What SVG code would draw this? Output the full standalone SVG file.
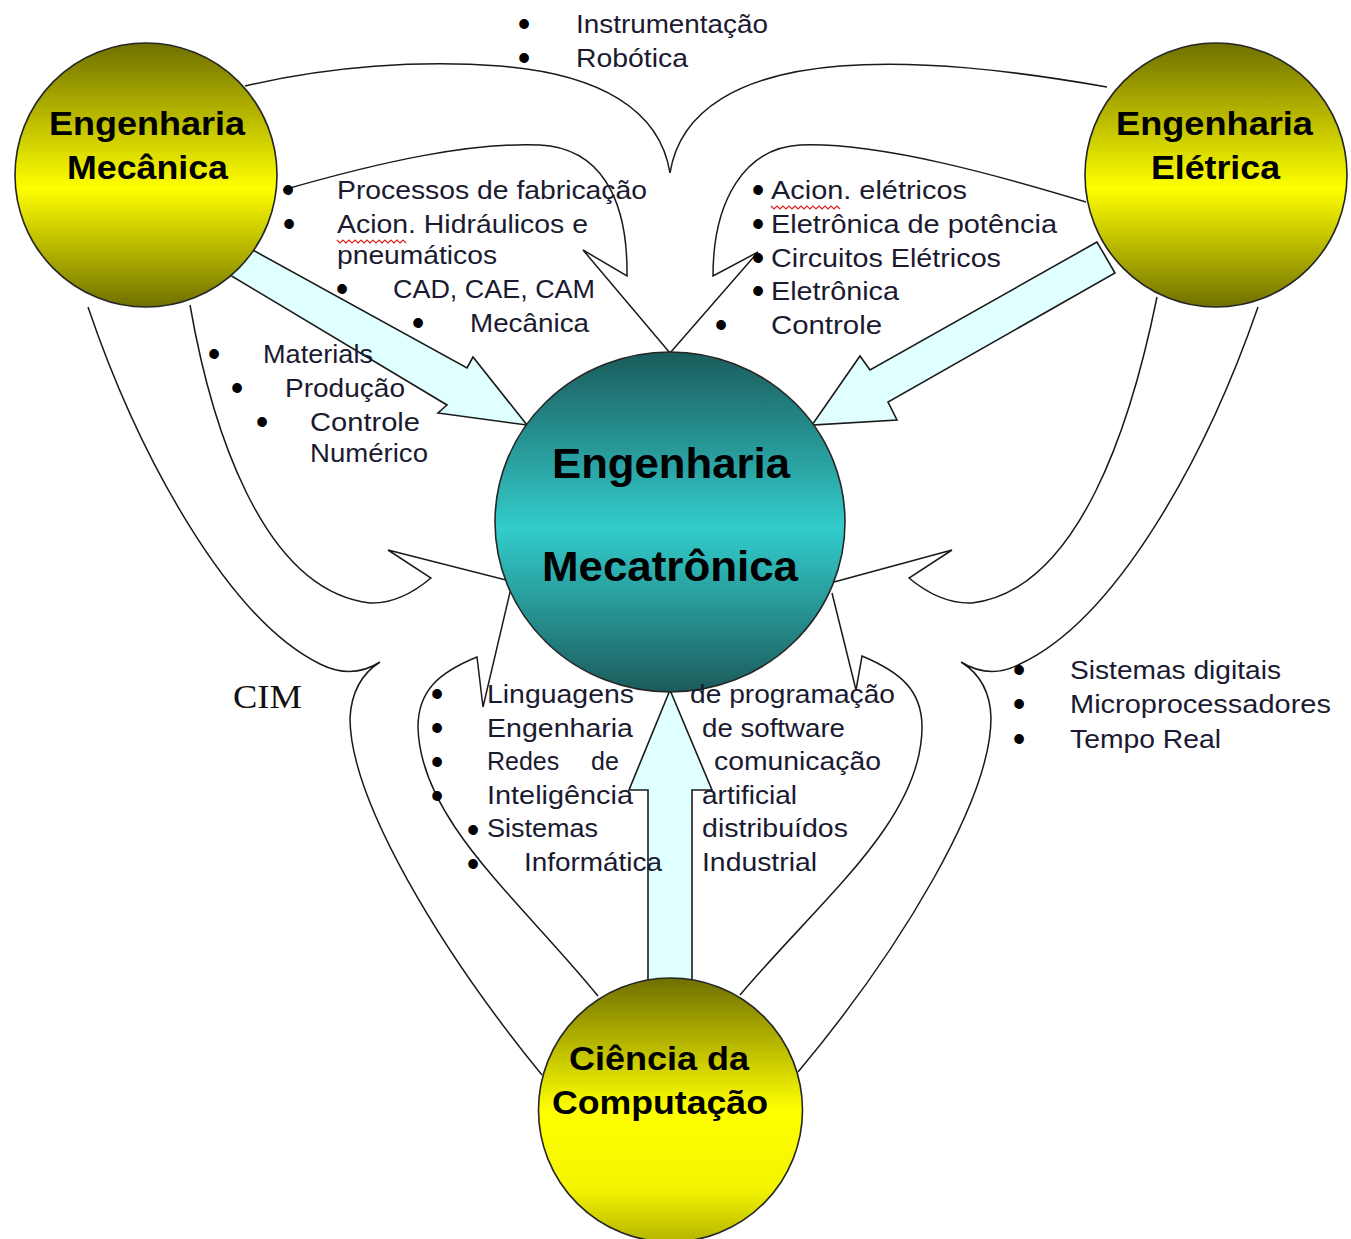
<svg xmlns="http://www.w3.org/2000/svg" width="1351" height="1239" viewBox="0 0 1351 1239">
<defs>
<linearGradient id="gYellow" x1="0" y1="0" x2="0" y2="1">
<stop offset="0" stop-color="#6f6f00"/>
<stop offset="0.55" stop-color="#ffff00"/>
<stop offset="1" stop-color="#6f6f00"/>
</linearGradient>
<linearGradient id="gYellowLow" x1="0" y1="0" x2="0" y2="1">
<stop offset="0" stop-color="#6f6f00"/>
<stop offset="0.5" stop-color="#ffff00"/>
<stop offset="0.8" stop-color="#f4f400"/>
<stop offset="1" stop-color="#b4b400"/>
</linearGradient>
<linearGradient id="gTeal" x1="0" y1="0" x2="0" y2="1">
<stop offset="0" stop-color="#1b5b5b"/>
<stop offset="0.52" stop-color="#33cccc"/>
<stop offset="1" stop-color="#1b5b5b"/>
</linearGradient>
<style>
.line{fill:none;stroke:#1a1a1a;stroke-width:1.5;stroke-linejoin:miter}
.block{fill:#e0ffff;stroke:#1a1a1a;stroke-width:1.6;stroke-linejoin:miter}
.node{stroke:#262626;stroke-width:1.6}
.nt{font-family:"Liberation Sans",Arial,sans-serif;font-weight:bold;fill:#000}
.t{font-family:"Liberation Sans",Arial,sans-serif;font-size:25px;fill:#1a1a30}
.b{font-family:"Liberation Sans",Arial,sans-serif;font-size:29px;fill:#000;stroke:#000;stroke-width:1.8;text-anchor:middle}
.wavy{fill:none;stroke:#e02020;stroke-width:1.2}
</style>
</defs>

<g id="connectors">
<path class="line" d="M 245,86 C 330,66 420,60 500,66 C 600,74 660,110 670,173 C 680,110 740,74 840,66 C 920,60 1010,70 1107,87"/>
<path class="line" d="M 88,307 C 140,460 230,620 320,664 Q 352,680 380,662 Q 352,680 350,718 C 350,800 440,950 542,1075"/>
<path class="line" d="M 1258,307 C 1205,460 1115,620 1020,664 Q 990,680 961,662 Q 990,680 991,718 C 991,800 900,950 798,1072"/>
<path class="line" d="M 283,190 C 380,162 470,142 540,145 C 598,148 628,195 627,276 L 583,250 L 670,353"/>
<path class="line" d="M 1086,202 C 1000,176 880,142 800,145 C 745,148 713,200 713,276 L 758,252 L 670,353"/>
<path class="line" d="M 190,305 C 210,420 260,590 370,603 Q 400,604 431,578 L 388,550 L 510,581"/>
<path class="line" d="M 1157,297 C 1132,420 1080,590 972,603 Q 940,604 909,578 L 952,550 L 834,582"/>
<path class="line" d="M 598,996 C 520,900 420,820 418,727 C 418,690 440,672 477,657 L 483,707 L 511,588"/>
<path class="line" d="M 740,995 C 820,900 922,820 922,727 C 922,690 900,672 862,656 L 856,690 L 832,593"/>
<polygon class="block" points="240,243 467,368 473,357 527,425 438,413 447,405 215,266"/>
<polygon class="block" points="1097,242 870,370 860,356 812,425 897,420 888,402 1115,273"/>
<polygon class="block" points="648,1000 648,790 629,790 670,690 712,790 692,790 692,1000"/>
</g>

<g id="node-mecanica">
<ellipse class="node" cx="146" cy="175" rx="131" ry="132" fill="url(#gYellow)"/>
<text class="nt" font-size="33" x="49" y="135" textLength="196" lengthAdjust="spacingAndGlyphs">Engenharia</text>
<text class="nt" font-size="33" x="67" y="179" textLength="161" lengthAdjust="spacingAndGlyphs">Mecânica</text>
</g>

<g id="node-eletrica">
<ellipse class="node" cx="1216" cy="175" rx="131" ry="132" fill="url(#gYellow)"/>
<text class="nt" font-size="33" x="1116" y="135" textLength="197" lengthAdjust="spacingAndGlyphs">Engenharia</text>
<text class="nt" font-size="33" x="1151" y="179" textLength="129" lengthAdjust="spacingAndGlyphs">Elétrica</text>
</g>

<g id="node-mecatronica">
<ellipse class="node" cx="670" cy="522" rx="175" ry="170" fill="url(#gTeal)"/>
<text class="nt" font-size="42" x="552" y="478" textLength="238" lengthAdjust="spacingAndGlyphs">Engenharia</text>
<text class="nt" font-size="42" x="542" y="581" textLength="256" lengthAdjust="spacingAndGlyphs">Mecatrônica</text>
</g>

<g id="node-computacao">
<ellipse class="node" cx="670.5" cy="1110" rx="132" ry="132" fill="url(#gYellowLow)"/>
<text class="nt" font-size="33" x="569" y="1070" textLength="180" lengthAdjust="spacingAndGlyphs">Ciência da</text>
<text class="nt" font-size="33" x="552" y="1114" textLength="216" lengthAdjust="spacingAndGlyphs">Computação</text>
</g>

<g id="label-top">
<text class="b" x="524" y="34">•</text>
<text class="t" x="576" y="33" textLength="192" lengthAdjust="spacingAndGlyphs">Instrumentação</text>
<text class="b" x="524" y="68">•</text>
<text class="t" x="576" y="67" textLength="112" lengthAdjust="spacingAndGlyphs">Robótica</text>
</g>

<g id="label-mecanica">
<text class="b" x="288" y="200">•</text>
<text class="t" x="337" y="199" textLength="310" lengthAdjust="spacingAndGlyphs">Processos de fabricação</text>
<text class="b" x="289" y="234">•</text>
<text class="t" x="337" y="233" textLength="251" lengthAdjust="spacingAndGlyphs">Acion. Hidráulicos e</text>
<path class="wavy" d="M 337,240 l 3,3 l 3,-3 l 3,3 l 3,-3 l 3,3 l 3,-3 l 3,3 l 3,-3 l 3,3 l 3,-3 l 3,3 l 3,-3 l 3,3 l 3,-3 l 3,3 l 3,-3 l 3,3 l 3,-3 l 3,3 l 3,-3 l 3,3 l 3,-3 l 3,3"/>
<text class="t" x="337" y="264" textLength="160" lengthAdjust="spacingAndGlyphs">pneumáticos</text>
<text class="b" x="342" y="299">•</text>
<text class="t" x="393" y="298" textLength="202" lengthAdjust="spacingAndGlyphs">CAD, CAE, CAM</text>
<text class="b" x="418" y="333">•</text>
<text class="t" x="470" y="332" textLength="119" lengthAdjust="spacingAndGlyphs">Mecânica</text>
</g>

<g id="label-eletrica">
<text class="b" x="758" y="200">•</text>
<text class="t" x="771" y="199" textLength="196" lengthAdjust="spacingAndGlyphs">Acion. elétricos</text>
<path class="wavy" d="M 771,206 l 3,3 l 3,-3 l 3,3 l 3,-3 l 3,3 l 3,-3 l 3,3 l 3,-3 l 3,3 l 3,-3 l 3,3 l 3,-3 l 3,3 l 3,-3 l 3,3 l 3,-3 l 3,3 l 3,-3 l 3,3 l 3,-3 l 3,3 l 3,-3 l 3,3"/>
<text class="b" x="758" y="234">•</text>
<text class="t" x="771" y="233" textLength="286" lengthAdjust="spacingAndGlyphs">Eletrônica de potência</text>
<text class="b" x="758" y="268">•</text>
<text class="t" x="771" y="267" textLength="230" lengthAdjust="spacingAndGlyphs">Circuitos Elétricos</text>
<text class="b" x="758" y="301">•</text>
<text class="t" x="771" y="300" textLength="128" lengthAdjust="spacingAndGlyphs">Eletrônica</text>
<text class="b" x="721" y="335">•</text>
<text class="t" x="771" y="334" textLength="111" lengthAdjust="spacingAndGlyphs">Controle</text>
</g>

<g id="label-left">
<text class="b" x="214" y="364">•</text>
<text class="t" x="263" y="363" textLength="110" lengthAdjust="spacingAndGlyphs">Materials</text>
<text class="b" x="237" y="398">•</text>
<text class="t" x="285" y="397" textLength="120" lengthAdjust="spacingAndGlyphs">Produção</text>
<text class="b" x="262" y="432">•</text>
<text class="t" x="310" y="431" textLength="110" lengthAdjust="spacingAndGlyphs">Controle</text>
<text class="t" x="310" y="462" textLength="118" lengthAdjust="spacingAndGlyphs">Numérico</text>
</g>

<g id="label-cim">
<text x="233" y="708" font-family="'Liberation Serif','Times New Roman',serif" font-size="33" fill="#111" textLength="69" lengthAdjust="spacingAndGlyphs">CIM</text>
</g>

<g id="label-computacao">
<text class="b" x="437" y="704">•</text>
<text class="t" x="487" y="703" textLength="147" lengthAdjust="spacingAndGlyphs">Linguagens</text>
<text class="t" x="690" y="703" textLength="205" lengthAdjust="spacingAndGlyphs">de programação</text>
<text class="b" x="437" y="738">•</text>
<text class="t" x="487" y="737" textLength="146" lengthAdjust="spacingAndGlyphs">Engenharia</text>
<text class="t" x="702" y="737" textLength="143" lengthAdjust="spacingAndGlyphs">de software</text>
<text class="b" x="437" y="772">•</text>
<text class="t" y="770"><tspan x="487">Redes</tspan><tspan x="591">de</tspan></text>
<text class="t" x="714" y="770" textLength="167" lengthAdjust="spacingAndGlyphs">comunicação</text>
<text class="b" x="437" y="806">•</text>
<text class="t" x="487" y="804" textLength="146" lengthAdjust="spacingAndGlyphs">Inteligência</text>
<text class="t" x="702" y="804" textLength="95" lengthAdjust="spacingAndGlyphs">artificial</text>
<text class="b" x="473" y="840">•</text>
<text class="t" x="487" y="837" textLength="111" lengthAdjust="spacingAndGlyphs">Sistemas</text>
<text class="t" x="702" y="837" textLength="146" lengthAdjust="spacingAndGlyphs">distribuídos</text>
<text class="b" x="473" y="874">•</text>
<text class="t" x="524" y="871" textLength="138" lengthAdjust="spacingAndGlyphs">Informática</text>
<text class="t" x="702" y="871" textLength="115" lengthAdjust="spacingAndGlyphs">Industrial</text>
</g>

<g id="label-right">
<text class="b" x="1019" y="680">•</text>
<text class="t" x="1070" y="679" textLength="211" lengthAdjust="spacingAndGlyphs">Sistemas digitais</text>
<text class="b" x="1019" y="714">•</text>
<text class="t" x="1070" y="713" textLength="261" lengthAdjust="spacingAndGlyphs">Microprocessadores</text>
<text class="b" x="1019" y="749">•</text>
<text class="t" x="1070" y="748" textLength="151" lengthAdjust="spacingAndGlyphs">Tempo Real</text>
</g>
</svg>
